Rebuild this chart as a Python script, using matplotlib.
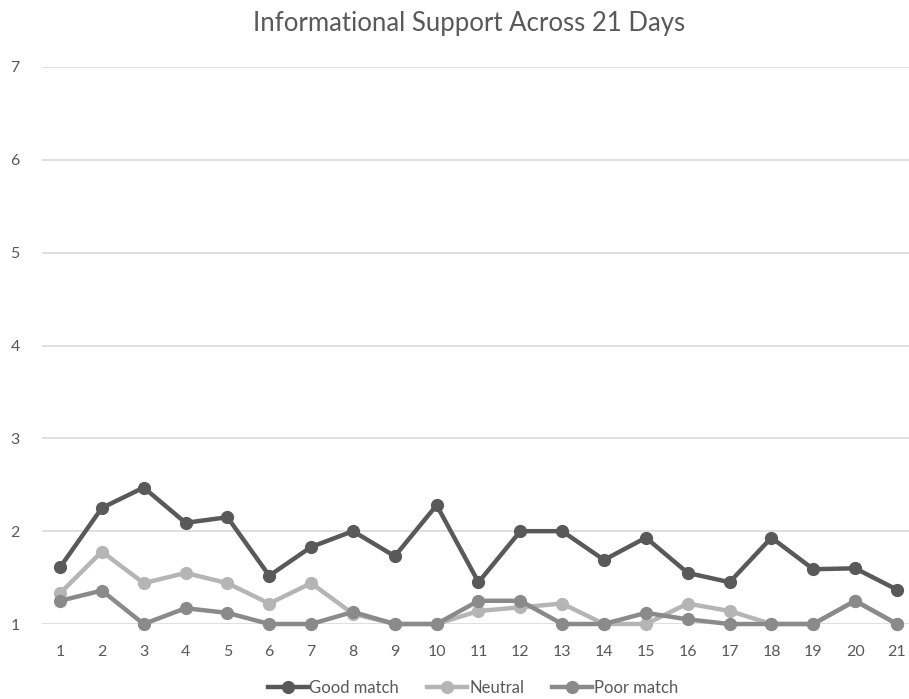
import matplotlib
matplotlib.use("Agg")
import matplotlib.pyplot as plt

plt.rcParams['font.family'] = ['Lato', 'DejaVu Sans']

# data
days = list(range(1, 22))
good_match = [1.61, 2.25, 2.47, 2.09, 2.15, 1.52, 1.83, 2.0, 1.73, 2.28, 1.45,
              2.0, 2.0, 1.69, 1.93, 1.55, 1.45, 1.93, 1.59, 1.60, 1.37]
neutral = [1.33, 1.78, 1.44, 1.55, 1.44, 1.22, 1.44, 1.11, 1.0, 1.0, 1.14,
           1.18, 1.22, 1.0, 1.0, 1.22, 1.14, 1.0, 1.0, 1.25, 1.0]
poor_match = [1.25, 1.36, 1.0, 1.17, 1.12, 1.0, 1.0, 1.13, 1.0, 1.0, 1.25,
              1.25, 1.0, 1.0, 1.12, 1.05, 1.0, 1.0, 1.0, 1.25, 1.0]
y_ticks = [1, 2, 3, 4, 5, 6, 7]

series = [("Good match", good_match, "#595959"),
          ("Neutral", neutral, "#b5b5b5"),
          ("Poor match", poor_match, "#8a8a8a")]

fig = plt.figure(figsize=(9.09, 6.99), dpi=100)
ax = fig.add_axes([42/909, 75/699, 867/909, 557/699])

for name, vals, col in series:
    ax.plot(days, vals, color=col, lw=3.2, marker='o', ms=8.5,
            label=name, clip_on=False, zorder=3)

ax.set_ylim(1, 7)
ax.set_xlim(1 - 18/41.85, 21 + 12/41.85)
ax.set_yticks(y_ticks)
ax.set_xticks(days)
ax.yaxis.grid(True, color="#d9d9d9", lw=1.2)
ax.set_axisbelow(True)
for s in ax.spines.values():
    s.set_visible(False)
ax.tick_params(length=0, labelsize=11.5, colors="#595959")
ax.tick_params(axis='y', pad=16)
ax.tick_params(axis='x', pad=15)

fig.text(469/909, 1 - 24/699, "Informational Support Across 21 Days", ha='center',
         va='center', fontsize=18.5, color="#595959")

leg = ax.legend(loc='center', bbox_to_anchor=(473/909, 11/699),
                bbox_transform=fig.transFigure, ncol=3, frameon=False, fontsize=12,
                handlelength=2.4, handletextpad=0.1, columnspacing=1.7,
                labelcolor="#595959")

fig.savefig("out.png", dpi=100)
